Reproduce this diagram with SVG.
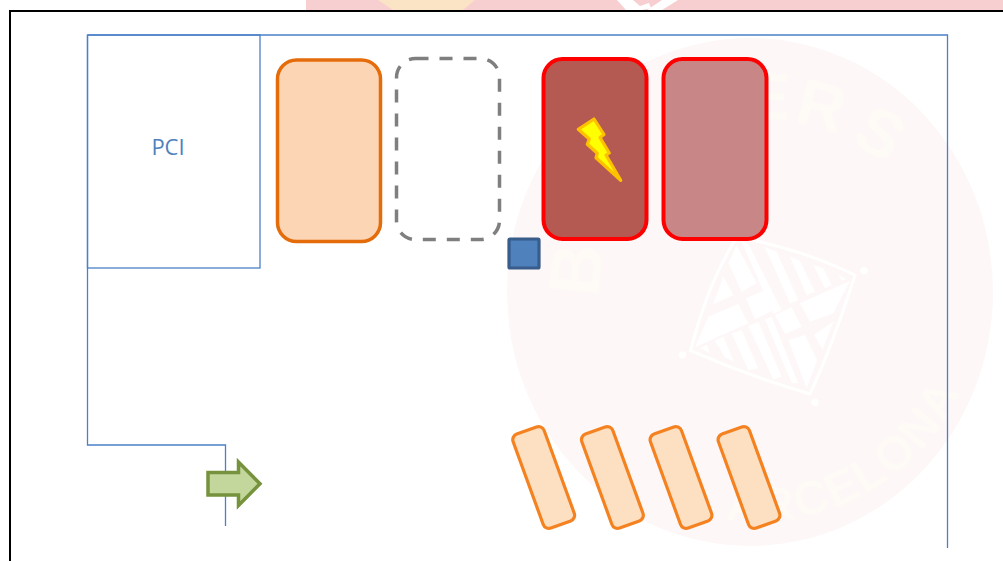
<svg xmlns="http://www.w3.org/2000/svg" width="1003" height="561" viewBox="0 0 1003 561">
<style>
.o{fill:none;stroke:#4a80c8;stroke-width:1.300}
.slot{fill:#fde0c2;stroke:#f58220;stroke-width:3.200}
.red{stroke:#ff0000;stroke-width:4}
.wm{font-family:"Liberation Sans",sans-serif;font-weight:bold;fill:#fefaf6}
.s{fill:#ffffff}
</style>
<rect width="1003" height="561" fill="#ffffff"/>
<g id="banner">
<rect x="306" y="0" width="697" height="10" fill="#f8cfd0"/>
<path d="M378,0H475L463,10H393Z" fill="#fbe3c6"/>
<path d="M617,0H633L640,6 649,3 651,8 642,10H626Z M662,0H678L662,10H647Z" fill="#ffffff"/>
</g>
<g id="watermark">
<ellipse cx="750" cy="292" rx="243" ry="254" fill="#fdf7f7"/>
<g transform="translate(660,220) scale(.3333)">
<path d="M225,60Q140,200 92,392Q270,470 450,522Q520,370 585,165Q430,90 250,55" fill="#fdf7f7" stroke="#ffffff" stroke-width="9"/>
<g class="s">
<polygon points="205,130 230,75 290,190 245,215"/>
<polygon points="190,170 220,225 160,253"/>
<polygon points="145,290 235,252 265,310 105,382"/>
<polygon points="258,235 310,212 340,270 285,298"/>
<polygon points="245,65 265,72 365,270 340,282"/>
<polygon points="315,82 350,95 415,240 390,250"/>
<polygon points="390,110 420,122 465,215 440,225"/>
<polygon points="460,135 490,145 515,195 495,205"/>
<polygon points="535,165 560,178 545,182"/>
<polygon points="420,250 570,183 520,280 450,305"/>
<polygon points="345,285 395,262 425,320 375,342"/>
<polygon points="385,360 435,345 472,420 440,505"/>
<polygon points="462,345 520,305 488,388"/>
<polygon points="265,318 295,305 365,470 340,478"/>
<polygon points="315,298 335,290 415,490 395,490"/>
<polygon points="215,340 245,330 295,445 265,450"/>
<polygon points="165,362 190,350 222,425 195,412"/>
<polygon points="120,385 140,375 150,400"/>
<circle cx="612" cy="152" r="11"/><circle cx="68" cy="405" r="11"/><circle cx="465" cy="547" r="11"/>
</g>
</g>
<text class="wm" font-size="72" transform="translate(598,298) rotate(-84)">B</text>
<text class="wm" font-size="66" transform="translate(745,118) rotate(3)">E</text>
<text class="wm" font-size="66" transform="translate(793,122) rotate(14)">R</text>
<text class="wm" font-size="66" transform="translate(850,142) rotate(30)">S</text>
<path id="arcPath" d="M690,512A226,226 0 0 0 975,240" fill="none"/>
<text class="wm" font-size="48" letter-spacing="2"><textPath href="#arcPath" startOffset="36">ARCELONA</textPath></text>
</g>
<rect id="frame" x="10" y="11" width="1100" height="600" fill="none" stroke="#000000" stroke-width="2"/>
<g id="connectors">
<path class="o" d="M87.500,35H947.500V548"/>
<path class="o" d="M87.500,35V445H225.500V526"/>
</g>
<g id="pci">
<rect class="o" x="87.500" y="35" width="172.500" height="233"/>
<text x="168" y="155" text-anchor="middle" font-family="'Open Sans',sans-serif" font-size="22" fill="#4f81bd">PCI</text>
</g>
<g id="slot-orange"><rect x="277.500" y="60" width="103" height="181.500" rx="19" fill="#fcd5b5" stroke="#e46c0a" stroke-width="3.500"/></g>
<g id="slot-empty"><rect x="396.500" y="58.500" width="103" height="181" rx="19" fill="#ffffff" stroke="#7f7f7f" stroke-width="3.500" stroke-dasharray="13 11"/></g>
<g id="slot-fault">
<rect class="red" x="543.500" y="59" width="103" height="180" rx="19" fill="#b55a52"/>
<polygon points="594,119 578.300,129.300 589.300,139 587.300,144.300 597.300,153.300 596,157.700 620.700,180.300 606,155 609.300,153 600,137.500 604,134.500" fill="#ffff00" stroke="#ffc000" stroke-width="3.200" stroke-linejoin="round"/>
</g>
<g id="slot-red"><rect class="red" x="663.500" y="59" width="103" height="180" rx="19" fill="#c88786"/></g>
<g id="square"><rect x="509" y="239" width="30" height="29" rx="1" fill="#4f81bd" stroke="#385d8a" stroke-width="3.200"/></g>
<g id="slot-small-1"><rect class="slot" x="527.200" y="427.500" width="33" height="100" rx="6" transform="rotate(-20 543.700 477.500)"/></g>
<g id="slot-small-2"><rect class="slot" x="595.900" y="427.500" width="33" height="100" rx="6" transform="rotate(-20 612.400 477.500)"/></g>
<g id="slot-small-3"><rect class="slot" x="664.500" y="427.500" width="33" height="100" rx="6" transform="rotate(-20 681 477.500)"/></g>
<g id="slot-small-4"><rect class="slot" x="732.500" y="427.500" width="33" height="100" rx="6" transform="rotate(-20 749 477.500)"/></g>
<g id="arrow"><polygon points="208,472.500 238.500,472.500 238.500,462 260,483.700 238.500,505.500 238.500,495 208,495" fill="#c3d69b" stroke="#76923c" stroke-width="3.500"/></g>
</svg>
